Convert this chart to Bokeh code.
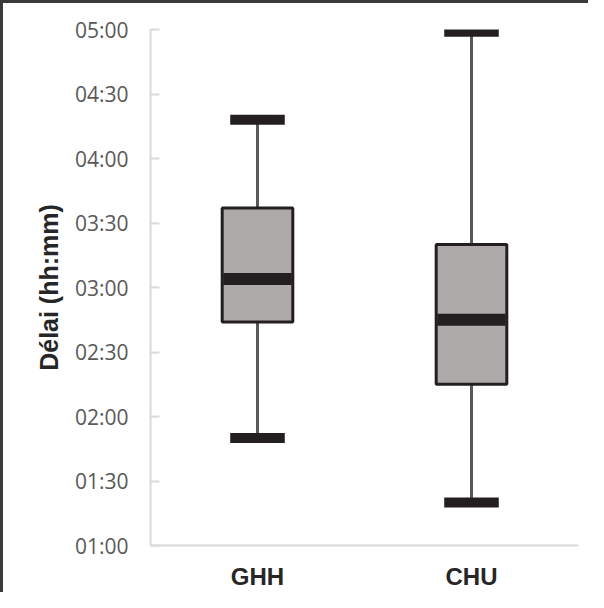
from bokeh.plotting import figure
from bokeh.models import FactorRange, Range1d, FixedTicker
from bokeh.embed import file_html
from bokeh.resources import INLINE

# Data (minutes since 00:00)
categories = ["GHH", "CHU"]
lower_whisker = [110, 80]
q1 = [164, 135]
median = [184, 165]
q3 = [217, 200]
upper_whisker = [258, 299]

tick_values = [60, 90, 120, 150, 180, 210, 240, 270, 300]
tick_labels = ["01:00", "01:30", "02:00", "02:30", "03:00", "03:30", "04:00", "04:30", "05:00"]

p = figure(
    x_range=FactorRange(*categories, range_padding=0),
    y_range=Range1d(60, 300),
    width=588, height=592,
    output_backend="svg", toolbar_location=None,
    min_border_left=147, min_border_right=13, min_border_top=26, min_border_bottom=50,
)
p.styles = {"border-top": "3px solid #3a3a3a", "border-left": "3px solid #3a3a3a"}
p.outline_line_color = None
p.grid.visible = False
p.background_fill_color = "white"
p.border_fill_color = "white"

# Whiskers
p.segment(x0=categories, y0=q3, x1=categories, y1=upper_whisker, line_color="#595959", line_width=3)
p.segment(x0=categories, y0=q1, x1=categories, y1=lower_whisker, line_color="#595959", line_width=3)
# Boxes
p.vbar(x=categories, bottom=q1, top=q3, width=0.33, fill_color="#aeaaaa",
       line_color="#231f20", line_width=3)
# Median
p.rect(x=categories, y=median, width=0.32, height=12, height_units="screen",
       fill_color="#231f20", line_color=None)
# Caps
p.rect(x=categories, y=upper_whisker, width=0.255, height=10, height_units="screen",
       fill_color="#231f20", line_color=None)
p.rect(x=categories, y=lower_whisker, width=0.255, height=10, height_units="screen",
       fill_color="#231f20", line_color=None)

# Y axis
ya = p.yaxis[0]
ya.ticker = FixedTicker(ticks=tick_values)
ya.major_label_overrides = {v: l for v, l in zip(tick_values, tick_labels)}
ya.axis_line_color = "#d9d9d9"
ya.axis_line_width = 2
ya.major_tick_line_color = "#d9d9d9"
ya.major_tick_line_width = 2
ya.major_tick_in = 9
ya.major_tick_out = 0
ya.minor_tick_line_color = None
ya.major_label_text_font = "Open Sans"
ya.major_label_text_font_size = "21px"
ya.major_label_text_color = "#595959"
ya.major_label_standoff = 22
ya.axis_label = "Délai (hh:mm)"
ya.axis_label_text_font = "Liberation Sans"
ya.axis_label_text_font_style = "bold"
ya.axis_label_text_font_size = "25px"
ya.axis_label_text_color = "#262626"
ya.axis_label_standoff = 9

# X axis
xa = p.xaxis[0]
xa.axis_line_color = "#d9d9d9"
xa.axis_line_width = 2
xa.major_tick_line_color = None
xa.minor_tick_line_color = None
xa.major_label_text_font = "Liberation Sans"
xa.major_label_text_font_style = "bold"
xa.major_label_text_font_size = "24px"
xa.major_label_text_color = "#262626"
xa.major_label_standoff = 11

open("out.html", "w").write(file_html(p, INLINE))
